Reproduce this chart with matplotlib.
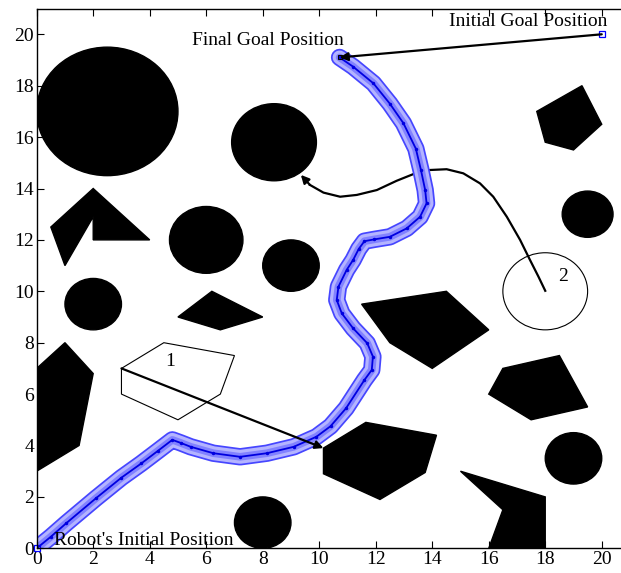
import matplotlib
matplotlib.use('Agg')
import matplotlib.pyplot as plt
import matplotlib.patheffects as pe
from matplotlib.patches import Polygon, Ellipse

plt.rcParams['font.family'] = ['Liberation Serif', 'DejaVu Serif']

# static obstacles: circles (x, y, r) and polygons
circles = [(2.5, 17.0, 2.5), (8.4, 15.8, 1.5), (6.0, 12.0, 1.3), (9.0, 11.0, 1.0),
           (2.0, 9.5, 1.0), (19.5, 13.0, 0.9), (19.0, 3.5, 1.0), (8.0, 1.0, 1.0)]
polygons = [
    [(0.5, 12.5), (2.0, 14.0), (4.0, 12.0), (2.0, 12.0), (2.0, 12.9), (1.0, 11.0)],
    [(5.0, 9.0), (6.2, 10.0), (8.0, 9.0), (6.5, 8.5)],
    [(0.0, 7.0), (1.0, 8.0), (2.0, 6.8), (1.5, 4.0), (0.0, 3.0)],
    [(11.5, 9.5), (14.5, 10.0), (16.0, 8.5), (14.0, 7.0), (12.5, 8.0)],
    [(16.0, 6.0), (16.5, 7.0), (18.5, 7.5), (19.5, 5.5), (17.5, 5.0)],
    [(15.0, 3.0), (18.0, 2.0), (18.0, 0.0), (16.0, 0.0), (16.5, 1.5)],
    [(17.7, 17.0), (19.3, 18.0), (20.0, 16.5), (19.0, 15.5), (18.0, 15.8)],
    [(10.15, 3.9), (11.65, 4.9), (14.15, 4.4), (13.75, 2.95), (12.15, 1.9), (10.15, 2.9)],
]

# moving obstacles (initial outlines)
obs1 = [(3.0, 7.0), (4.5, 8.0), (7.0, 7.5), (6.5, 6.0), (5.0, 5.0), (3.0, 6.0)]
obs1_end = (10.15, 3.9)
obs2 = (18.0, 10.0, 1.5)
obs2_x = [18.0, 17.76, 17.46, 17.11, 16.64, 16.16, 15.69, 15.1, 14.51, 13.92,
          13.33, 12.74, 12.04, 11.33, 10.74, 10.15, 9.67, 9.35]
obs2_y = [10.02, 10.57, 11.22, 12.0, 12.9, 13.68, 14.2, 14.59, 14.75, 14.72,
          14.56, 14.3, 13.94, 13.75, 13.68, 13.84, 14.14, 14.53]

# goal positions
goal_init = (20.0, 20.0)
goal_final = (10.72, 19.1)

# robot trajectory
path_x = [0, 0.5, 1.05, 2.1, 3.0, 3.7, 4.3, 4.8, 5.1, 5.45, 6.25, 7.2, 8.15, 9.1,
          9.9, 10.4, 10.95, 11.6, 11.86, 11.9, 11.7, 11.2, 10.8, 10.62, 10.68,
          10.97, 11.2, 11.4, 11.6, 11.95, 12.5, 13.1, 13.57, 13.8, 13.75, 13.6,
          13.42, 12.98, 12.5, 11.92, 11.2, 10.72]
path_y = [0, 0.45, 0.98, 1.95, 2.75, 3.3, 3.8, 4.22, 4.1, 3.95, 3.7, 3.56, 3.7,
          3.95, 4.34, 4.75, 5.45, 6.55, 6.94, 7.46, 7.98, 8.56, 9.14, 9.66, 10.18,
          10.83, 11.22, 11.65, 11.95, 12.02, 12.12, 12.45, 12.9, 13.42, 13.94,
          14.72, 15.55, 16.54, 17.3, 18.09, 18.74, 19.1]

ticks = list(range(0, 21, 2))

fig = plt.figure(figsize=(6.21, 5.73), dpi=100)
ax = fig.add_axes([36.7 / 621, 24.7 / 573, 593.3 / 621, 539.7 / 573])
ax.set_xlim(0, 21)
ax.set_ylim(0, 21)

for x, y, r in circles:
    ax.add_patch(Ellipse((x, y), 2 * r, 2 * r, facecolor='black', edgecolor='black'))
for pts in polygons:
    ax.add_patch(Polygon(pts, closed=True, facecolor='black', edgecolor='black'))

ax.add_patch(Polygon(obs1, closed=True, fill=False, edgecolor='black', lw=0.8))
ax.add_patch(Ellipse(obs2[:2], 2 * obs2[2], 2 * obs2[2], fill=False,
                     edgecolor='black', lw=0.8))
ax.text(4.72, 7.26, '1', fontsize=14, ha='center', va='center')
ax.text(18.63, 10.56, '2', fontsize=14, ha='center', va='center')

arrow = dict(arrowstyle='-|>', color='black', lw=1.6, mutation_scale=12,
             shrinkA=0, shrinkB=0)
ax.annotate('', xy=obs1_end, xytext=obs1[0], arrowprops=arrow)
ax.plot(obs2_x[:-1], obs2_y[:-1], color='black', lw=1.6, solid_joinstyle='round')
ax.annotate('', xy=(obs2_x[-1], obs2_y[-1]), xytext=(obs2_x[-2], obs2_y[-2]),
            arrowprops=arrow)

# robot path: band of hollow circles with the centre line on top
ax.plot(path_x, path_y, color='#5a5aff', lw=12, solid_capstyle='round',
        solid_joinstyle='round',
        path_effects=[pe.Stroke(linewidth=12.5, foreground='#4646ff'),
                      pe.Stroke(linewidth=10, foreground='#b4b4ff'),
                      pe.Stroke(linewidth=5.5, foreground='#8282ff')])
ax.plot(path_x, path_y, color='#0000e0', lw=1.3, marker='.', ms=3,
        solid_joinstyle='round')

ax.annotate('', xy=goal_final, xytext=goal_init, arrowprops=arrow)
ax.plot(*goal_init, 's', ms=5, mfc='none', mec='blue', mew=0.9)
ax.plot(0, 0, 's', ms=5, mfc='none', mec='blue', mew=0.9, clip_on=False)
ax.plot(*goal_final, 's', ms=3, mfc='none', mec='black', mew=0.8)

ax.text(14.6, 20.48, 'Initial Goal Position', fontsize=14, va='center')
ax.text(5.5, 19.74, 'Final Goal Position', fontsize=14, va='center')
ax.text(0.62, 0.3, "Robot's Initial Position", fontsize=14, va='center')

ax.set_xticks(ticks)
ax.set_yticks(ticks)
ax.tick_params(direction='in', top=True, right=True, labelsize=14, length=5,
               pad=2, width=0.8)
for s in ax.spines.values():
    s.set_linewidth(1.0)

plt.savefig('out.png', dpi=100)
